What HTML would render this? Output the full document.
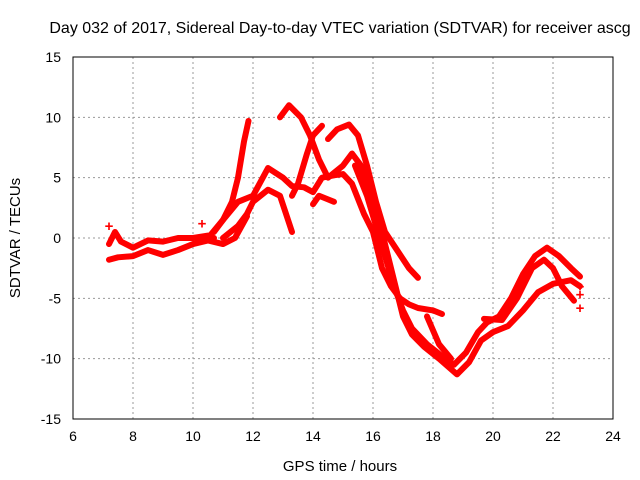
<!DOCTYPE html>
<html><head><meta charset="utf-8"><style>
body{margin:0;background:#fff;}
svg{display:block;font-family:"Liberation Sans",sans-serif;}
</style></head><body>
<svg id="chart" width="640" height="480">
<text x="340" y="33" font-size="16" text-anchor="middle">Day 032 of 2017, Sidereal Day-to-day VTEC variation (SDTVAR) for receiver ascg</text>
<text x="340" y="471" font-size="15" text-anchor="middle">GPS time / hours</text>
<text transform="translate(20,238) rotate(-90)" font-size="15" text-anchor="middle">SDTVAR / TECUs</text>
<g id="grid"></g><g id="series"></g><g id="axes"></g>
</svg>
<script>
const xTicks=[6,8,10,12,14,16,18,20,22,24];
const yTicks=[-15,-10,-5,0,5,10,15];
const s1=[[7.2,-0.5],[7.4,0.5],[7.6,-0.3],[8,-0.8],[8.5,-0.2],[9,-0.3],[9.5,0],[10,0],[10.5,0.2],[10.7,0]];
const s2=[[7.2,-1.8],[7.5,-1.6],[8,-1.5],[8.5,-1],[9,-1.4],[9.5,-1],[10,-0.5],[10.5,-0.2],[11,-0.5],[11.4,0],[11.8,1.8]];
const s3=[[10.5,0],[11,1.5],[11.3,3],[11.5,5],[11.7,8],[11.85,9.7]];
const s4=[[10.7,0.5],[11,1.5],[11.5,3],[12,3.5],[12.5,5.8],[13,5],[13.3,4.3],[13.7,4.2],[14,3.8],[14.3,5],[14.7,5.2],[15,5.3],[15.3,4.5],[15.7,2],[16,0.5],[16.3,-2.5],[16.6,-4],[16.9,-5],[17.2,-5.5],[17.5,-5.8],[18,-6],[18.3,-6.3]];
const s5=[[11,0],[11.5,1],[11.8,2],[12,3],[12.5,4],[12.9,3.5],[13.1,2],[13.3,0.5]];
const s6=[[12.9,10],[13.2,11],[13.6,10],[13.9,8.5],[14.2,6.5],[14.5,5],[15,6],[15.3,7],[15.6,6],[15.9,4],[16.2,1.5],[16.5,-1.5],[16.8,-4.5],[17,-6.5],[17.3,-8],[17.7,-9],[18.2,-10],[18.8,-11.3],[19.2,-10.3],[19.6,-8.5],[20,-7.8],[20.5,-7.3],[21,-6],[21.5,-4.5],[22,-3.8],[22.6,-3.5],[22.9,-4]];
const s7=[[13.3,3.5],[13.5,4.5],[13.8,7],[14,8.5],[14.3,9.3]];
const s8=[[14,2.8],[14.2,3.5],[14.5,3.2],[14.7,3]];
const s9=[[14.5,8.2],[14.8,9],[15.2,9.4],[15.5,8.5],[15.8,6],[16.1,3],[16.4,0.5],[16.8,-1],[17.2,-2.5],[17.5,-3.3]];
const s10=[[15.4,6],[15.8,3.5],[16.1,1],[16.4,-1.5],[16.7,-4],[17,-6],[17.3,-7.5],[17.8,-8.8],[18.3,-9.8],[18.7,-10.5],[19.1,-9.5],[19.5,-7.8],[19.8,-7],[20.2,-6.5],[20.6,-5],[21,-3],[21.4,-1.5],[21.8,-0.8],[22.2,-1.5],[22.6,-2.5],[22.9,-3.2]];
const s11=[[17.8,-6.5],[18.2,-8.8],[18.6,-10]];
const s12=[[19.7,-6.7],[20.3,-6.8],[20.8,-5],[21.3,-2.5],[21.7,-1.8],[22,-2.5],[22.3,-4],[22.7,-5.2]];
const strays=[[22.9,-4],[22.9,-4.7],[22.9,-5.8],[7.2,1],[10.3,1.2]];
const allSeries=[s1,s2,s3,s4,s5,s6,s7,s8,s9,s10,s11,s12];
const L=73,R=613,T=57,B=419;
const X=h=>L+(h-6)/(24-6)*(R-L);
const Y=v=>B-(v+15)/30*(B-T);
const NS="http://www.w3.org/2000/svg";
function mk(t,a,p){const e=document.createElementNS(NS,t);for(const k in a)e.setAttribute(k,a[k]);p.appendChild(e);return e;}
const grid=document.getElementById('grid'),ser=document.getElementById('series'),ax=document.getElementById('axes');
xTicks.forEach(t=>{
 if(t>6&&t<24){const g=mk('line',{x1:X(t),x2:X(t),y1:T,y2:B,stroke:'#999','stroke-dasharray':'2,3','stroke-width':1},grid);
 
 }
 const l=mk('text',{x:X(t),y:B+22,'font-size':14,'text-anchor':'middle'},ax);l.textContent=t;
 
 
});
yTicks.forEach(t=>{
 if(t>-15&&t<15){const g=mk('line',{x1:L,x2:R,y1:Y(t),y2:Y(t),stroke:'#999','stroke-dasharray':'2,3','stroke-width':1},grid);
 
 }
 const l=mk('text',{x:L-12,y:Y(t)+5,'font-size':14,'text-anchor':'end'},ax);l.textContent=t;
 
 
});
const fr=mk('rect',{x:L,y:T,width:R-L,height:B-T,fill:'none',stroke:'#000','stroke-width':1},ax);


allSeries.forEach(s=>{
 const p=mk('polyline',{points:s.map(d=>X(d[0])+','+Y(d[1])).join(' '),fill:'none',stroke:'#f00','stroke-width':6,'stroke-linejoin':'round','stroke-linecap':'round'},ser);
 
 
});
strays.forEach(d=>{
 const t=mk('text',{x:X(d[0]),y:Y(d[1])+5,'font-size':15,'font-weight':'bold',fill:'#f00','text-anchor':'middle'},ser);t.textContent='+';
 
 
});
</script>
</body></html>
